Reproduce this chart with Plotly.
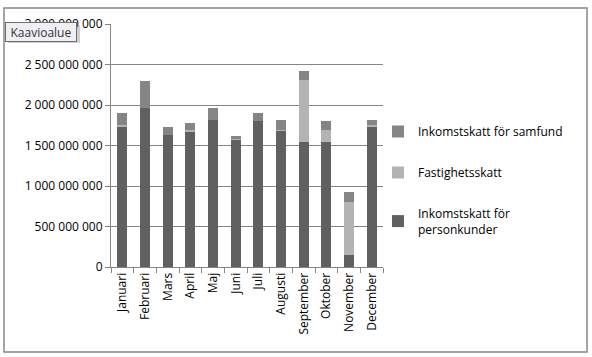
import plotly.graph_objects as go

months = ["Januari", "Februari", "Mars", "April", "Maj", "Juni", "Juli",
          "Augusti", "September", "Oktober", "November", "December"]
personkunder = [1739e6, 1961e6, 1624e6, 1677e6, 1809e6, 1575e6, 1797e6,
                1686e6, 1538e6, 1538e6, 144e6, 1739e6]
fastighetsskatt = [12e6, 0, 0, 12e6, 0, 15e6, 0, 10e6, 776e6, 148e6, 654e6, 10e6]
samfund = [156e6, 341e6, 99e6, 95e6, 160e6, 22e6, 110e6, 125e6, 111e6, 111e6, 122e6, 72e6]

series = [
    ("Inkomstskatt för<br>personkunder", personkunder, "#606060", 3),
    ("Fastighetsskatt", fastighetsskatt, "#b3b3b3", 2),
    ("Inkomstskatt för samfund", samfund, "#858585", 1),
]

fig = go.Figure()
for i, (name, vals, col, rank) in enumerate(series):
    fig.add_trace(go.Bar(x=months, y=vals, name=name, marker_color=col,
                         marker_line_width=0, legendgroup=f"g{i}",
                         legendrank=rank))

font = "Open Sans, Liberation Sans, sans-serif"
L, R, T, B = 111, 383, 24, 267
W, H = 592, 357
pw, ph = R - L, B - T
fig.update_layout(
    barmode="stack",
    bargap=0.55,
    width=W, height=H,
    margin=dict(l=L, r=W - R, t=T, b=H - B, autoexpand=False),
    paper_bgcolor="white", plot_bgcolor="white",
    separators=", ",
    font=dict(family=font, size=12, color="#000000"),
    legend=dict(xref="container", yref="container",
                x=378 / W, y=1 - 117 / H, xanchor="left", yanchor="top",
                tracegroupgap=22, bgcolor="rgba(0,0,0,0)",
                font=dict(size=12), itemwidth=30),
    showlegend=True,
    xaxis=dict(tickangle=-90, showline=True, linecolor="#868686", linewidth=1,
               ticks="outside", tickson="boundaries", ticklen=5, tickcolor="#868686",
               showgrid=False, tickfont=dict(size=12), automargin=False),
    yaxis=dict(range=[0, 3e9], dtick=5e8, tickformat=",d", showline=True,
               linecolor="#868686", linewidth=1, ticks="outside", ticklen=5,
               tickcolor="#868686", gridcolor="#868686", gridwidth=1,
               zeroline=False, tickfont=dict(size=12), automargin=False),
    shapes=[dict(type="rect", xref="paper", yref="paper",
                 x0=(4 - L) / pw, x1=(587 - L) / pw,
                 y0=(B - 352) / ph, y1=(B - 8) / ph,
                 line=dict(color="#888888", width=1.5)),
            dict(type="rect", xref="paper", yref="paper",
                 x0=(8 - L) / pw, x1=(80 - L) / pw,
                 y0=(B - 43) / ph, y1=(B - 25) / ph,
                 fillcolor="rgba(120,120,120,0.35)", line=dict(width=0))],
    annotations=[dict(text="Kaavioalue", xref="paper", yref="paper",
                      x=(5 - L) / pw, y=(B - 22) / ph,
                      xanchor="left", yanchor="top", showarrow=False,
                      width=66, height=14, align="center",
                      font=dict(size=12, color="#333333", family=font),
                      bgcolor="#f0f0f4", bordercolor="#6e6e6e", borderwidth=1,
                      borderpad=2)],
)

fig.write_html("out.html", config={"displayModeBar": False},
               post_script="document.body.style.margin='0';document.body.style.overflow='hidden';")
